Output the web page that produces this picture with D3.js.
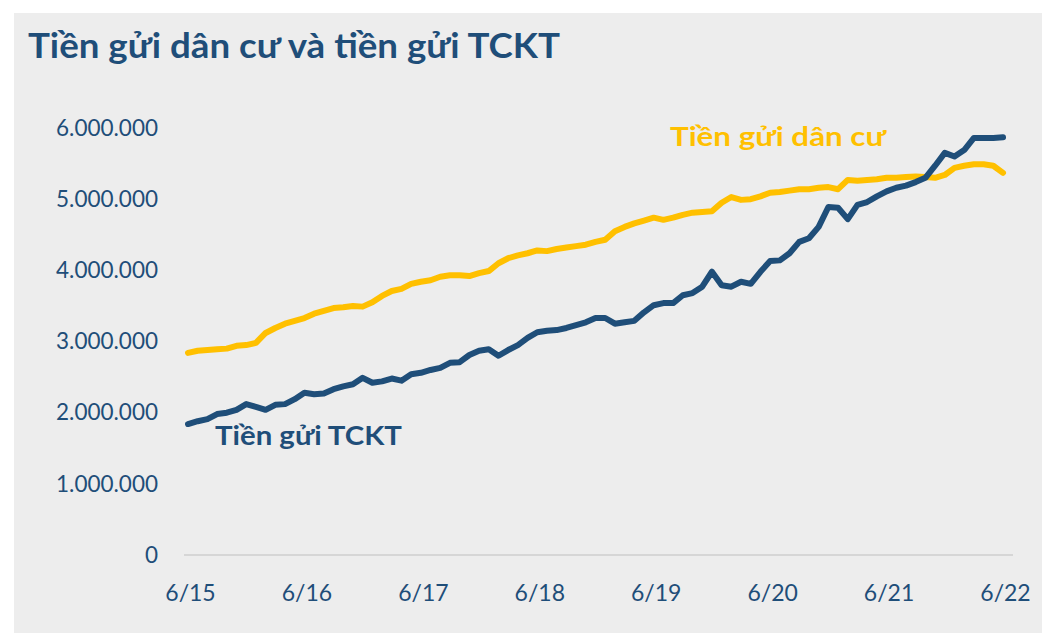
<!DOCTYPE html>
<html>
<head>
<meta charset="utf-8">
<script src="https://cdn.jsdelivr.net/npm/d3@7"></script>
<style>
  html, body { margin: 0; padding: 0; background: #ffffff; }
  svg { display: block; }
</style>
</head>
<body>
<svg id="chart" width="1050" height="643"></svg>
<script>
// ---- Data (monthly, 6/2015 – 6/2022) ----
const xTickLabels = ["6/15", "6/16", "6/17", "6/18", "6/19", "6/20", "6/21", "6/22"];
const yTickValues = [0, 1000000, 2000000, 3000000, 4000000, 5000000, 6000000];

const danCu = [
  2840000, 2870000, 2880000, 2890000, 2900000, 2940000, 2950000, 2980000, 3120000, 3190000,
  3250000, 3290000, 3330000, 3390000, 3430000, 3470000, 3480000, 3500000, 3490000, 3550000,
  3640000, 3710000, 3740000, 3810000, 3840000, 3860000, 3910000, 3930000, 3930000, 3920000,
  3960000, 3990000, 4100000, 4170000, 4210000, 4240000, 4280000, 4270000, 4300000, 4320000,
  4340000, 4360000, 4400000, 4430000, 4550000, 4610000, 4660000, 4700000, 4740000, 4710000,
  4740000, 4780000, 4810000, 4820000, 4830000, 4950000, 5030000, 4990000, 5000000, 5040000,
  5090000, 5100000, 5120000, 5140000, 5140000, 5160000, 5170000, 5140000, 5270000, 5260000,
  5270000, 5280000, 5300000, 5300000, 5310000, 5320000, 5310000, 5300000, 5340000, 5440000,
  5470000, 5490000, 5490000, 5470000, 5370000
];

const tckt = [
  1840000, 1880000, 1910000, 1980000, 2000000, 2040000, 2120000, 2080000, 2040000, 2110000,
  2120000, 2190000, 2280000, 2260000, 2270000, 2330000, 2370000, 2400000, 2490000, 2420000,
  2440000, 2480000, 2450000, 2540000, 2560000, 2600000, 2630000, 2700000, 2710000, 2810000,
  2870000, 2890000, 2800000, 2880000, 2950000, 3050000, 3130000, 3150000, 3160000, 3190000,
  3230000, 3270000, 3330000, 3330000, 3250000, 3270000, 3290000, 3410000, 3510000, 3540000,
  3540000, 3650000, 3680000, 3770000, 3980000, 3790000, 3770000, 3840000, 3810000, 3980000,
  4130000, 4140000, 4240000, 4400000, 4450000, 4610000, 4890000, 4880000, 4720000, 4920000,
  4960000, 5040000, 5110000, 5160000, 5190000, 5240000, 5300000, 5470000, 5650000, 5600000,
  5690000, 5860000, 5860000, 5860000, 5870000
];

const seriesNames = ["Tiền gửi dân cư", "Tiền gửi TCKT"];
const titleText = "Tiền gửi dân cư và tiền gửi TCKT";

// ---- Style ----
const COLOR_YELLOW = "#FFC000";
const COLOR_BLUE = "#1F4E79";
const TEXT_BLUE = "#1F4E79";
const FONT = "Lato, 'Open Sans', 'Noto Sans', sans-serif";

const svg = d3.select("#chart");

// Panel background
svg.append("rect")
  .attr("x", 14).attr("y", 13)
  .attr("width", 1028).attr("height", 620)
  .attr("fill", "#EDEDED");

// Title
svg.append("text")
  .attr("x", 28).attr("y", 58)
  .attr("font-family", FONT)
  .attr("font-weight", 700)
  .attr("font-size", 34)
  .attr("fill", TEXT_BLUE)
  .attr("textLength", 532)
  .attr("lengthAdjust", "spacingAndGlyphs")
  .text(titleText);

// Scales
const n = danCu.length;
const x = d3.scaleLinear().domain([0, n - 1]).range([188, 1003]);
const y = d3.scaleLinear().domain([0, 6000000]).range([555, 128]);

// Baseline (zero line)
svg.append("line")
  .attr("x1", 184).attr("x2", 1013)
  .attr("y1", y(0)).attr("y2", y(0))
  .attr("stroke", "#D6D6D6")
  .attr("stroke-width", 2);

// Y axis
const fmt = v => d3.format(",")(v).replace(/,/g, ".");
const yAxis = d3.axisLeft(y)
  .tickValues(yTickValues)
  .tickFormat(fmt)
  .tickSize(0)
  .tickPadding(0);

const gy = svg.append("g")
  .attr("transform", "translate(158,0)")
  .call(yAxis);
gy.select(".domain").remove();
gy.selectAll("text")
  .attr("font-family", FONT)
  .attr("font-size", 22.5)
  .attr("fill", TEXT_BLUE);

// X axis
const xTickIdx = xTickLabels.map((d, i) => i * 12);
const xAxis = d3.axisBottom(x)
  .tickValues(xTickIdx)
  .tickFormat((d, i) => xTickLabels[i])
  .tickSize(0)
  .tickPadding(0);

const gx = svg.append("g")
  .attr("transform", "translate(2,585)")
  .call(xAxis);
gx.select(".domain").remove();
gx.selectAll("text")
  .attr("font-family", FONT)
  .attr("font-size", 23)
  .attr("fill", TEXT_BLUE);

// Lines
const line = d3.line()
  .x((d, i) => x(i))
  .y(d => y(d));

svg.append("path")
  .datum(danCu)
  .attr("d", line)
  .attr("fill", "none")
  .attr("stroke", COLOR_YELLOW)
  .attr("stroke-width", 6)
  .attr("stroke-linejoin", "round")
  .attr("stroke-linecap", "round");

svg.append("path")
  .datum(tckt)
  .attr("d", line)
  .attr("fill", "none")
  .attr("stroke", COLOR_BLUE)
  .attr("stroke-width", 6)
  .attr("stroke-linejoin", "round")
  .attr("stroke-linecap", "round");

// Series labels
svg.append("text")
  .attr("x", 670).attr("y", 146)
  .attr("font-family", FONT)
  .attr("font-weight", 700)
  .attr("font-size", 27)
  .attr("fill", COLOR_YELLOW)
  .attr("textLength", 216)
  .attr("lengthAdjust", "spacingAndGlyphs")
  .text(seriesNames[0]);

svg.append("text")
  .attr("x", 215).attr("y", 445)
  .attr("font-family", FONT)
  .attr("font-weight", 700)
  .attr("font-size", 27)
  .attr("fill", COLOR_BLUE)
  .attr("textLength", 187)
  .attr("lengthAdjust", "spacingAndGlyphs")
  .text(seriesNames[1]);
</script>
</body>
</html>
